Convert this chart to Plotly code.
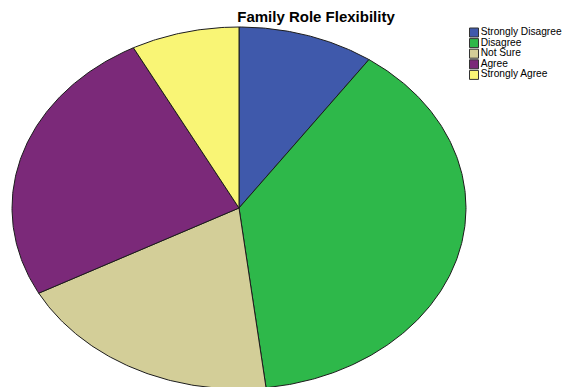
import numpy as np
import plotly.graph_objects as go

# Survey responses: "Family Role Flexibility"
categories = ["Strongly Disagree", "Disagree", "Not Sure", "Agree", "Strongly Agree"]
percents = [9.7, 38.4, 19.1, 25.1, 7.7]
colors = ["#3F59AB", "#2EB84A", "#D3CE98", "#7B2979", "#F9F575"]

W, H = 563, 387
FONT = "Arial, Liberation Sans, sans-serif"

fig = go.Figure()

# Pie wedges drawn clockwise from 12 o'clock on a unit circle; the unequal
# axis scaling stretches the pie into an ellipse.
total = float(sum(percents))
start = 0.0
for name, val, col in zip(categories, percents, colors):
    end = start + val / total * 360.0
    t = np.radians(np.linspace(start, end, max(int(val * 6), 12)))
    xs = np.concatenate([[0.0], np.sin(t), [0.0]])
    ys = np.concatenate([[0.0], np.cos(t), [0.0]])
    fig.add_trace(go.Scatter(
        x=xs, y=ys, mode="lines", fill="toself", fillcolor=col,
        line=dict(color="#1c1c1c", width=1), name=name,
        hoverinfo="name", showlegend=False,
    ))
    start = end

# Pixel geometry of the pie: centre and horizontal / vertical radii
cx, cy, rx, ry = 239.0, 208.0, 227.0, 181.0
xrange_ = [-cx / rx, (W - cx) / rx]
yrange_ = [-(H - cy) / ry, cy / ry]

# Legend: small square swatches with labels in the top-right corner
leg_x0, leg_y0, leg_dy = 474.0, 32.5, 10.6
fig.add_trace(go.Scatter(
    x=[leg_x0] * len(categories),
    y=[leg_y0 + i * leg_dy for i in range(len(categories))],
    mode="markers+text",
    marker=dict(symbol="square", size=9, color=colors,
                line=dict(color="#333333", width=1)),
    text=categories, textposition="middle right",
    textfont=dict(family=FONT, size=10.2, color="#000000"),
    xaxis="x2", yaxis="y2", showlegend=False, hoverinfo="skip",
    cliponaxis=False,
))

fig.update_layout(
    width=W, height=H,
    margin=dict(l=0, r=0, t=0, b=0),
    paper_bgcolor="white", plot_bgcolor="white",
    xaxis=dict(range=xrange_, visible=False, fixedrange=True),
    yaxis=dict(range=yrange_, visible=False, fixedrange=True),
    xaxis2=dict(range=[0, W], visible=False, overlaying="x", fixedrange=True),
    yaxis2=dict(range=[H, 0], visible=False, overlaying="y", fixedrange=True),
    title=dict(
        text="<b>Family Role Flexibility</b>",
        font=dict(family=FONT, size=15, color="#000000"),
        x=316 / W, xanchor="center", xref="paper",
        y=1 - 17 / H, yanchor="middle", yref="container",
    ),
    showlegend=False,
)

fig.write_html("out.html")
